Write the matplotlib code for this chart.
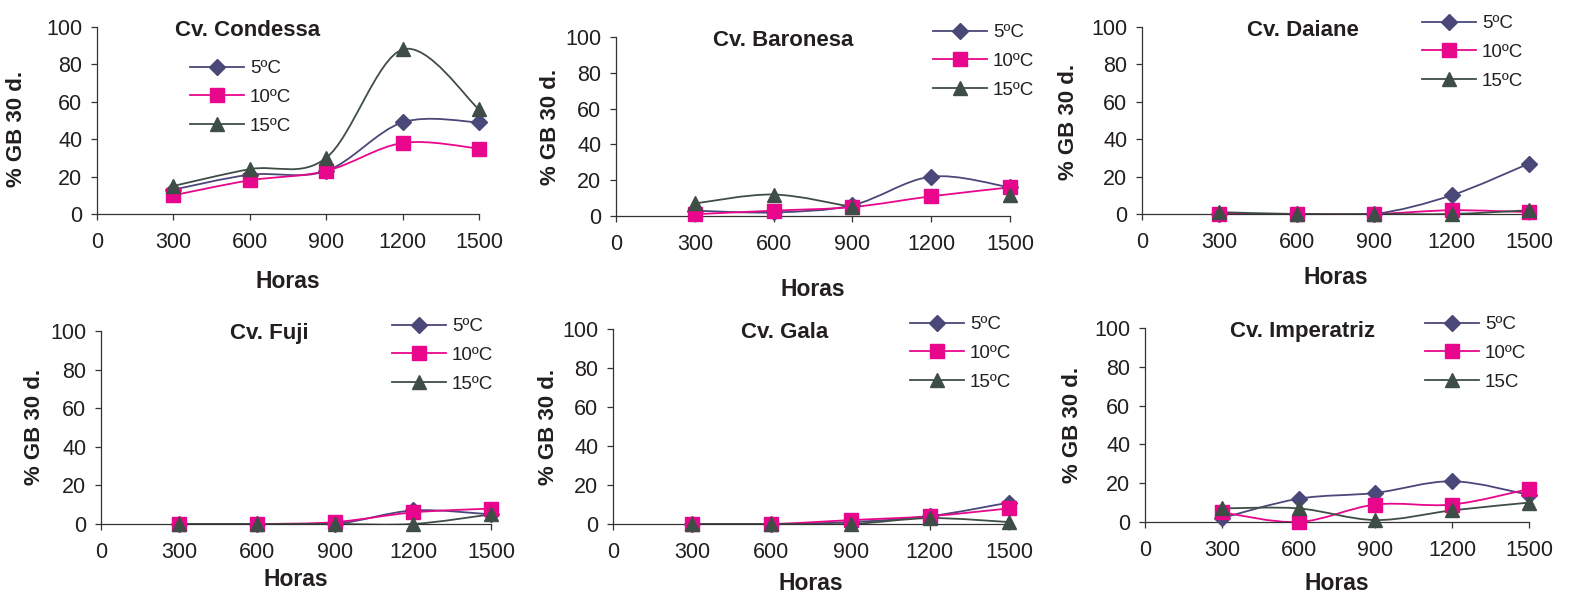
import numpy as np
import matplotlib
matplotlib.use("Agg")
import matplotlib.pyplot as plt
from matplotlib.path import Path
from matplotlib.patches import PathPatch
from matplotlib.lines import Line2D

plt.rcParams['font.family'] = ['Liberation Sans', 'DejaVu Sans']

# --- Data ---
horas = [300, 600, 900, 1200, 1500]
cultivares = ["Cv. Condessa", "Cv. Baronesa", "Cv. Daiane",
              "Cv. Fuji", "Cv. Gala", "Cv. Imperatriz"]

t5 = [
    [13, 21, 23, 49, 49],
    [3, 2, 6, 22, 16],
    [0, 0, 0, 10, 27],
    [0, 0, 0, 7, 5],
    [0, 0, 1, 4, 11],
    [2, 12, 15, 21, 14],
]
t10 = [
    [10, 18, 23, 38, 35],
    [1, 3, 5, 11, 16],
    [0, 0, 0, 2, 1],
    [0, 0, 1, 6, 8],
    [0, 0, 2, 4, 8],
    [5, 0, 9, 9, 17],
]
t15 = [
    [15, 24, 30, 88, 56],
    [7, 12, 5, np.nan, 12],
    [1, 0, 0, 0, 2],
    [0, 0, 0, 0, 5],
    [0, 0, 0, 3, 1],
    [7, 7, 1, 6, 10],
]
legend_labels = [
    ["5ºC", "10ºC", "15ºC"],
    ["5ºC", "10ºC", "15ºC"],
    ["5ºC", "10ºC", "15ºC"],
    ["5ºC", "10ºC", "15ºC"],
    ["5ºC", "10ºC", "15ºC"],
    ["5ºC", "10ºC", "15C"],
]

# --- Styles ---
colors = ["#4a4878", "#e8068c", "#3e4e46"]
markers = ["D", "s", "^"]
msizes = [8.5, 10, 10.5]

W, H = 1581, 595
# panel geometry in pixels: y-axis x, x=1500 x, y=100 y, y=0 y
geom = [
    (97, 479, 27, 214),
    (616, 1010, 37, 216),
    (1142, 1529, 27, 214),
    (101, 491, 331, 524),
    (613, 1009, 329, 524),
    (1145, 1529, 328, 522),
]
title_pos = [(248, 30), (783, 41), (1303, 30), (269, 333), (785, 332), (1302, 332)]
xlabel_pos = [282, 290, 277, 580, 583, 583]
ylabel_pos = [(17, 129), (551, 127), (1068, 122), (35, 427), (548, 427), (1072, 425)]
legend_pos = [(190, 60), (933, 24), (1422, 15), (392, 318), (910, 316), (1425, 316)]


def smooth_path(x, y):
    """Excel-like smoothed line as cubic Bezier segments (breaks at NaN)."""
    x = np.asarray(x, float)
    y = np.asarray(y, float)
    verts, codes = [], []
    ok = ~np.isnan(y)
    runs, cur = [], []
    for i in range(len(x)):
        if ok[i]:
            cur.append(i)
        else:
            if cur:
                runs.append(cur)
            cur = []
    if cur:
        runs.append(cur)
    for run in runs:
        if len(run) < 2:
            continue
        p = np.column_stack([x[run], y[run]])
        n = len(p)
        verts.append(p[0])
        codes.append(Path.MOVETO)
        for i in range(n - 1):
            p0 = p[i - 1] if i > 0 else p[i]
            p3 = p[i + 2] if i + 2 < n else p[i + 1]
            c1 = p[i] + (p[i + 1] - p0) / 6.0
            c2 = p[i + 1] - (p3 - p[i]) / 6.0
            verts += [c1, c2, p[i + 1]]
            codes += [Path.CURVE4] * 3
    if not verts:
        return None
    return Path(verts, codes)


fig = plt.figure(figsize=(W / 100, H / 100), dpi=100)

for k in range(6):
    x0, x1, ytop, ybot = geom[k]
    ax = fig.add_axes([x0 / W, 1 - ybot / H, (x1 - x0) / W, (ybot - ytop) / H])
    ax.set_xlim(0, 1500)
    ax.set_ylim(0, 100)
    ax.patch.set_alpha(0)
    for s in ["top", "right"]:
        ax.spines[s].set_visible(False)
    for s in ["left", "bottom"]:
        ax.spines[s].set_color("#333333")
        ax.spines[s].set_linewidth(0.9)
    ax.set_xticks([0, 300, 600, 900, 1200, 1500])
    ax.set_yticks([0, 20, 40, 60, 80, 100])
    ax.tick_params(direction="out", length=4.5, width=0.9, color="#333333",
                   labelsize=15.5, labelcolor="#231f20")
    ax.tick_params(axis="x", pad=8.5)
    ax.tick_params(axis="y", pad=6)

    handles = []
    for j, series in enumerate([t5[k], t10[k], t15[k]]):
        path = smooth_path(horas, series)
        if path is not None:
            ax.add_patch(PathPatch(path, fill=False, edgecolor=colors[j],
                                   linewidth=1.3, zorder=2 + j * 0.1))
        ax.plot(horas, series, linestyle="none", marker=markers[j],
                ms=msizes[j], color=colors[j], zorder=3 + j * 0.1, clip_on=False)
        handles.append(Line2D([], [], color=colors[j], lw=1.3,
                              marker=markers[j], ms=msizes[j]))

    tx, ty = title_pos[k]
    fig.text(tx / W, 1 - ty / H, cultivares[k], ha="center", va="center",
             fontsize=16, fontweight="bold", color="#231f20")
    fig.text((x0 + x1) / 2 / W, 1 - xlabel_pos[k] / H, "Horas", ha="center",
             va="center", fontsize=16.5, fontweight="bold", color="#231f20")
    lx, ly = ylabel_pos[k]
    fig.text(lx / W, 1 - ly / H, "% GB 30 d.", ha="center", va="center",
             rotation=90, fontsize=16, fontweight="bold", color="#231f20")

    gx, gy = legend_pos[k]
    fig.legend(handles, legend_labels[k], loc="upper left",
               bbox_to_anchor=(gx / W, 1 - gy / H), frameon=False,
               fontsize=13.5, handlelength=2.9, handletextpad=0.3,
               labelspacing=0.62, borderpad=0, borderaxespad=0,
               labelcolor="#231f20")

fig.savefig("out.png", dpi=100)
